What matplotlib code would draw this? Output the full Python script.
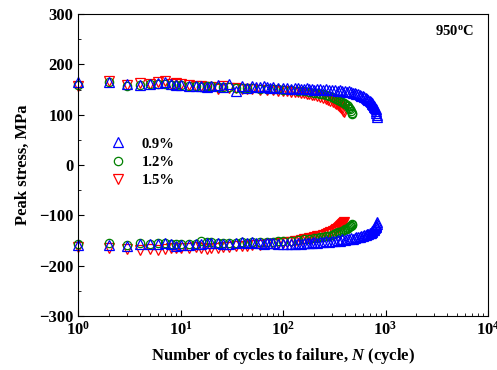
import matplotlib
matplotlib.use('Agg')
import matplotlib.pyplot as plt
from matplotlib.ticker import MultipleLocator, LogLocator

plt.rcParams['font.family'] = ['Liberation Serif', 'DejaVu Serif']
plt.rcParams['font.weight'] = 'bold'
plt.rcParams['mathtext.fontset'] = 'custom'
plt.rcParams['mathtext.rm'] = 'Liberation Serif:bold'
plt.rcParams['mathtext.it'] = 'Liberation Serif:italic:bold'
plt.rcParams['mathtext.bf'] = 'Liberation Serif:bold'

# 0.9 % strain amplitude
n09 = [1, 2, 3, 4, 5, 6, 7, 8, 9, 10, 12, 14, 16, 18, 20, 23, 26, 30, 35, 40, 45, 50,
       55, 60, 65, 70, 75, 80, 90, 100, 110, 120, 130, 140, 150, 160, 170, 180, 190, 200,
       215, 230, 245, 260, 280, 300, 320, 340, 360, 380, 400, 420, 440, 460, 480, 500,
       520, 540, 560, 580, 600, 620, 640, 660, 680, 700, 715, 730, 745, 760, 770, 780,
       790, 800, 808, 815, 822, 830]
ten09 = [165, 164, 162, 160, 161, 163, 165, 162, 160, 160, 158, 157, 158, 156, 157, 160,
         155, 162, 148, 158, 154, 157, 156, 155, 157, 156, 154, 155, 153, 154, 153, 152,
         154, 153, 152, 151, 153, 152, 151, 150, 152, 151, 150, 151, 150, 149, 150, 148,
         149, 147, 148, 146, 147, 145, 144, 143, 142, 141, 140, 138, 137, 135, 134, 132,
         130, 128, 126, 124, 122, 120, 118, 116, 114, 111, 108, 104, 100, 95]
com09 = [-159, -158, -160, -156, -157, -156, -155, -157, -160, -159, -158, -157, -156,
         -155, -154, -155, -157, -156, -155, -153, -154, -153, -155, -154, -156, -155,
         -154, -155, -156, -157, -156, -157, -156, -155, -156, -155, -154, -155, -154,
         -153, -154, -152, -153, -151, -152, -150, -151, -149, -150, -148, -149, -147,
         -148, -146, -147, -145, -144, -143, -144, -142, -141, -140, -139, -138, -137,
         -136, -135, -133, -132, -130, -129, -127, -125, -123, -121, -119, -117, -114]

# 1.2 % strain amplitude
n12 = [1, 2, 3, 4, 5, 6, 7, 8, 9, 10, 12, 14, 16, 18, 20, 23, 26, 30, 35, 40, 45, 50,
       60, 70, 80, 90, 100, 120, 140, 160, 180, 200, 215, 230, 245, 260, 280, 300, 315,
       330, 345, 360, 375, 390, 405, 420, 430, 440, 450, 460, 468, 475]
ten12 = [160, 165, 158, 160, 161, 162, 162, 160, 160, 159, 158, 157, 156, 158, 157, 156,
         155, 155, 154, 154, 153, 153, 152, 152, 151, 151, 150, 149, 148, 147, 146, 144,
         143, 142, 141, 140, 138, 136, 134, 132, 130, 128, 126, 124, 122, 119, 117, 114,
         111, 108, 104, 101]
com12 = [-156, -155, -158, -155, -156, -155, -155, -156, -157, -157, -156, -156, -150,
         -152, -153, -154, -155, -155, -154, -153, -154, -152, -153, -152, -152, -151,
         -150, -150, -149, -148, -147, -146, -145, -144, -143, -142, -141, -139, -137,
         -136, -134, -133, -131, -130, -128, -127, -125, -124, -122, -121, -119, -118]

# 1.5 % strain amplitude
n15 = [1, 2, 3, 4, 5, 6, 7, 8, 9, 10, 12, 14, 16, 18, 20, 23, 26, 30, 35, 40, 45, 50,
       60, 70, 80, 90, 100, 110, 120, 130, 140, 150, 160, 170, 180, 190, 200, 215, 230,
       245, 260, 275, 290, 305, 320, 330, 340, 350, 360, 370, 380, 388, 395]
ten15 = [158, 167, 160, 163, 162, 164, 166, 162, 163, 162, 160, 158, 157, 156, 155, 152,
         157, 154, 153, 152, 152, 151, 150, 149, 149, 148, 147, 147, 146, 146, 145, 144,
         143, 142, 141, 140, 139, 137, 136, 134, 132, 130, 128, 126, 124, 122, 120, 118,
         116, 114, 111, 108, 105]
com15 = [-162, -165, -166, -168, -166, -168, -167, -165, -164, -165, -164, -163, -164,
         -166, -165, -164, -163, -162, -161, -160, -160, -159, -158, -157, -156, -155,
         -154, -153, -152, -151, -150, -149, -148, -147, -146, -145, -144, -142, -141,
         -139, -137, -135, -133, -131, -129, -128, -126, -124, -122, -120, -118, -116, -114]

fig = plt.figure(figsize=(4.97, 3.70), dpi=100)
ax = fig.add_axes([0.157, 0.146, 0.825, 0.816])

kw = dict(linestyle='none', markerfacecolor='none', markeredgewidth=0.9, clip_on=False)
ax.plot(n15, ten15, marker='v', color='red', markersize=7.5, **kw)
ax.plot(n15, com15, marker='v', color='red', markersize=7.5, **kw)
ax.plot(n12, ten12, marker='o', color='green', markersize=6, **kw)
ax.plot(n12, com12, marker='o', color='green', markersize=6, **kw)
ax.plot(n09, ten09, marker='^', color='blue', markersize=7.5, **kw)
ax.plot(n09, com09, marker='^', color='blue', markersize=7.5, **kw)

h09, = ax.plot([], [], marker='^', color='blue', label='0.9%', markersize=7.5, **kw)
h12, = ax.plot([], [], marker='o', color='green', label='1.2%', markersize=6, **kw)
h15, = ax.plot([], [], marker='v', color='red', label='1.5%', markersize=7.5, **kw)
ax.legend(handles=[h09, h12, h15], loc='upper left', bbox_to_anchor=(0.045, 0.635),
          frameon=False, handlelength=1.2, handletextpad=1.0,
          labelspacing=0.35, prop={'weight': 'bold', 'size': 10.5})

ax.set_xscale('log')
ax.set_xlim(1, 1e4)
ax.set_ylim(-300, 300)
ax.yaxis.set_major_locator(MultipleLocator(100))
ax.yaxis.set_minor_locator(MultipleLocator(50))
ax.xaxis.set_minor_locator(LogLocator(base=10, subs=range(2, 10)))
ax.tick_params(which='both', direction='in', labelsize=12, top=False, right=False)
ax.tick_params(which='major', length=4)
ax.tick_params(which='minor', length=2.5)
for lab in ax.get_yticklabels():
    lab.set_fontweight('bold')

ax.set_xlabel('Number of cycles to failure, $\\mathit{N}$ (cycle)', fontsize=12,
              fontweight='bold', labelpad=5)
ax.set_ylabel('Peak stress, MPa', fontsize=12, fontweight='bold', labelpad=6)
ax.text(0.965, 0.945, '950$^{\\mathrm{o}}$C', transform=ax.transAxes, ha='right',
        va='center', fontsize=10.5, fontweight='bold')

fig.savefig('out.png', dpi=100)
